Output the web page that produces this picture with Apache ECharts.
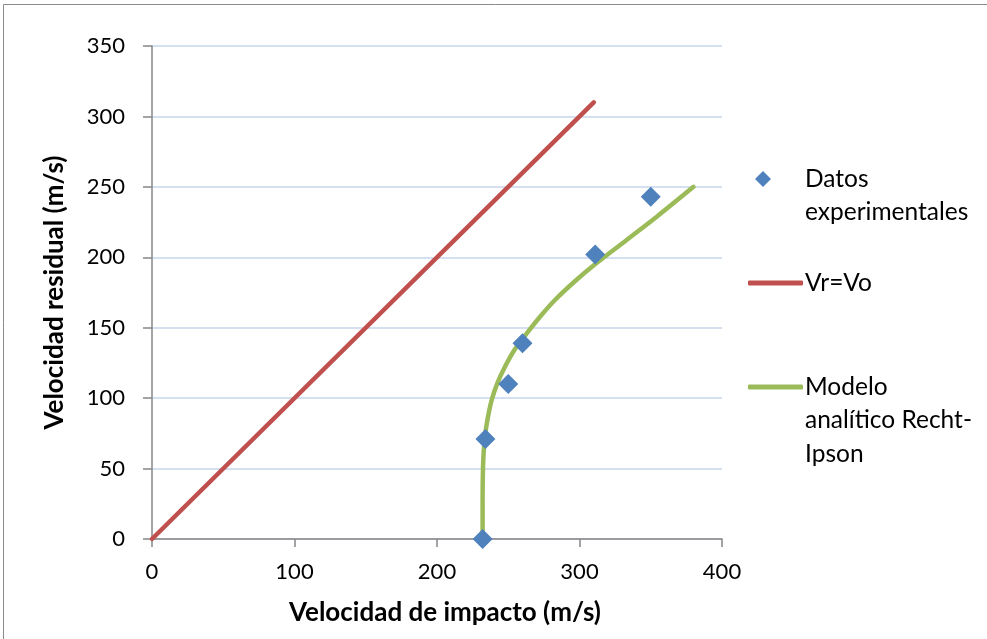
<!DOCTYPE html>
<html>
<head>
<meta charset="utf-8">
<title>Velocidad residual vs. velocidad de impacto</title>
<script src="https://cdn.jsdelivr.net/npm/echarts@6/dist/echarts.min.js"></script>
<style>
  html, body { margin: 0; padding: 0; background: #ffffff; }
  #chart { width: 987px; height: 639px; }
</style>
</head>
<body>
<div id="chart"></div>
<script>
// Experimental points: impact velocity (m/s) and residual velocity (m/s)
const datosImpacto = [232, 234, 250, 260, 311, 350];
const datosResidual = [0, 71, 110, 139, 202, 243];

// Reference line Vr = Vo
const lineaIgualX = [0, 310];
const lineaIgualY = [0, 310];

// Recht-Ipson analytic model curve
const modeloImpacto = [232, 232, 232.3, 233, 233.9, 235.8, 238.4, 242.3, 247.7, 254.3, 263, 272.3, 282.8, 296.8, 310.9, 333.1, 354.2, 380];
const modeloResidual = [0, 27.7, 51.3, 65.5, 75, 86.8, 98.7, 110.5, 122.3, 134.2, 146, 157.8, 169.7, 183, 195, 212.3, 228.8, 250];

const ejeXMin = 0, ejeXMax = 400, ejeXPaso = 100;
const ejeYMin = 0, ejeYMax = 350, ejeYPaso = 50;

const pares = (xs, ys) => xs.map((x, i) => [x, ys[i]]);

const FONT = 'Lato';
const chart = echarts.init(document.getElementById('chart'), null, { renderer: 'canvas' });

const legendText = { fontFamily: FONT, fontSize: 24.5, color: '#000000', lineHeight: 33.5 };

chart.setOption({
  backgroundColor: '#ffffff',
  animation: false,
  graphic: [{
    type: 'rect',
    shape: { x: 3.5, y: 4.5, width: 990, height: 650 },
    style: { fill: 'none', stroke: '#8a8a8a', lineWidth: 1 },
    silent: true
  }],
  grid: { left: 152, right: 265, top: 46, bottom: 100, containLabel: false },
  xAxis: {
    type: 'value',
    min: ejeXMin, max: ejeXMax, interval: ejeXPaso,
    name: 'Velocidad de impacto (m/s)',
    nameLocation: 'middle',
    nameGap: 61,
    nameTextStyle: { fontFamily: FONT, fontSize: 26, fontWeight: 'bold', color: '#000000', padding: [0, 0, 0, 16] },
    axisLine: { show: true, onZero: false, lineStyle: { color: '#868686', width: 1.5 } },
    axisTick: { show: true, length: 8, lineStyle: { color: '#868686', width: 1.5 } },
    axisLabel: { margin: 22, fontFamily: FONT, fontSize: 22, color: '#000000' },
    splitLine: { show: false }
  },
  yAxis: {
    type: 'value',
    min: ejeYMin, max: ejeYMax, interval: ejeYPaso,
    name: 'Velocidad residual (m/s)',
    nameLocation: 'middle',
    nameGap: 84,
    nameTextStyle: { fontFamily: FONT, fontSize: 26, fontWeight: 'bold', color: '#000000' },
    axisLine: { show: true, onZero: false, lineStyle: { color: '#868686', width: 1.5 } },
    axisTick: { show: true, length: 9, lineStyle: { color: '#868686', width: 1.5 } },
    axisLabel: { margin: 27, fontFamily: FONT, fontSize: 22, color: '#000000' },
    splitLine: { show: true, lineStyle: { color: '#c6d4ea', width: 1.5 } }
  },
  legend: [
    {
      data: ['Datos experimentales'],
      left: 755, top: 128.75,
      padding: 0,
      icon: 'diamond',
      itemWidth: 16, itemHeight: 16,
      formatter: () => '\nDatos\nexperimentales',
      textStyle: Object.assign({ padding: [0, 0, 0, 29] }, legendText)
    },
    {
      data: ['Vr=Vo'],
      left: 748, top: 266.25,
      padding: 0,
      icon: 'roundRect',
      itemWidth: 55, itemHeight: 5,
      textStyle: Object.assign({ padding: [0, 0, 0, -3] }, legendText)
    },
    {
      data: ['Modelo analítico Recht-Ipson'],
      left: 748, top: 303.25,
      padding: 0,
      icon: 'roundRect',
      itemWidth: 55, itemHeight: 5,
      formatter: () => '\n\nModelo\nanalítico Recht-\nIpson',
      textStyle: Object.assign({ padding: [0, 0, 0, -3] }, legendText)
    }
  ],
  series: [
    {
      name: 'Vr=Vo',
      type: 'line',
      data: pares(lineaIgualX, lineaIgualY),
      showSymbol: false,
      symbol: 'none',
      lineStyle: { color: '#c0504d', width: 4.5, cap: 'round' },
      itemStyle: { color: '#c0504d' },
      z: 2
    },
    {
      name: 'Modelo analítico Recht-Ipson',
      type: 'line',
      data: pares(modeloImpacto, modeloResidual),
      smooth: 0.3,
      showSymbol: false,
      symbol: 'none',
      lineStyle: { color: '#9bbb59', width: 4.5, cap: 'round' },
      itemStyle: { color: '#9bbb59' },
      z: 3
    },
    {
      name: 'Datos experimentales',
      type: 'scatter',
      data: pares(datosImpacto, datosResidual),
      symbol: 'diamond',
      symbolSize: 20,
      itemStyle: { color: '#4f81bd', opacity: 1 },
      z: 4
    }
  ]
});
</script>
</body>
</html>
